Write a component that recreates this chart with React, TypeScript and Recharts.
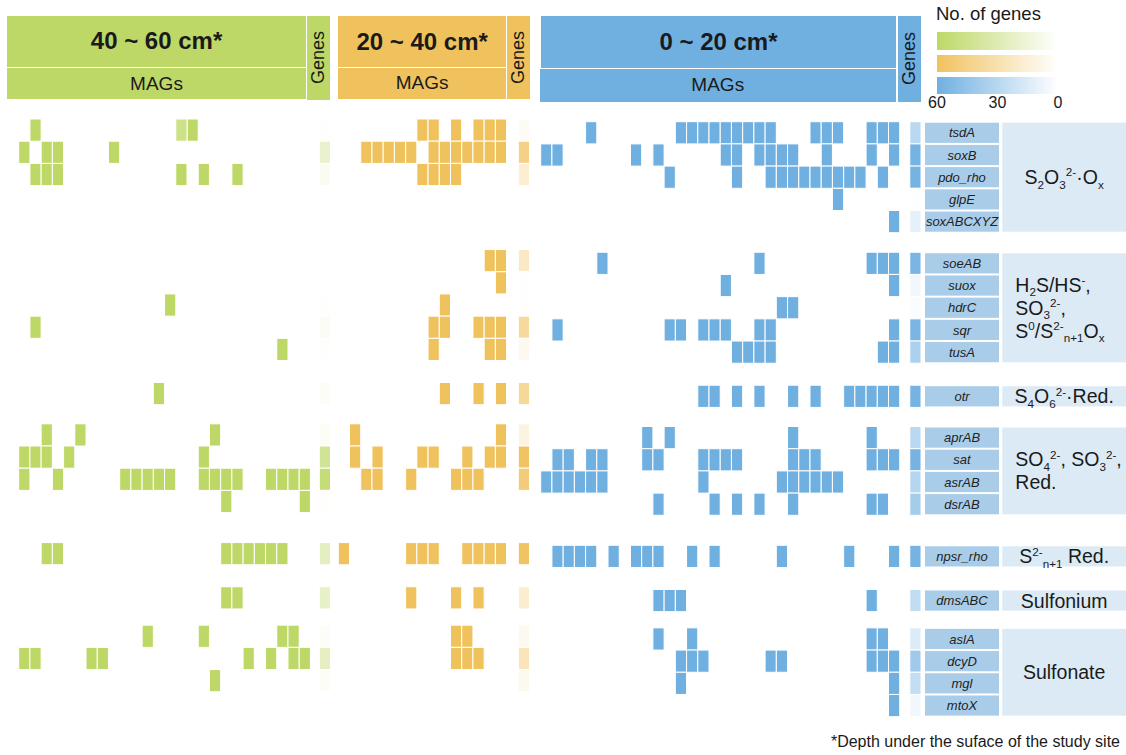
import React from "react";
import { ScatterChart, Scatter, XAxis, YAxis, ReferenceArea } from "recharts";

const FONT = '"Liberation Sans", Arial, Helvetica, sans-serif';

// gene rows, grouped by sulfur-metabolism step
const GENE_GROUPS: string[][] = [
  ["tsdA", "soxB", "pdo_rho", "glpE", "soxABCXYZ"],
  ["soeAB", "suox", "hdrC", "sqr", "tusA"],
  ["otr"],
  ["aprAB", "sat", "asrAB", "dsrAB"],
  ["npsr_rho"],
  ["dmsABC"],
  ["aslA", "dcyD", "mgl", "mtoX"],
];

// one label per group: _{..} subscript, ^{..} superscript
const PATHWAYS: string[][] = [
  ["S_{2}O_{3}^{2-}·O_{x}"],
  ["H_{2}S/HS^{-},", "SO_{3}^{2-},", "S^{0}/S^{2-}_{n+1}O_{x}"],
  ["S_{4}O_{6}^{2-}·Red."],
  ["SO_{4}^{2-}, SO_{3}^{2-},", "Red."],
  ["S^{2-}_{n+1} Red."],
  ["Sulfonium"],
  ["Sulfonate"],
];

const DEPTHS = ["40 ~ 60 cm*", "20 ~ 40 cm*", "0 ~ 20 cm*"];
const LEGEND_TICKS = [60, 30, 0];

// MAG columns carrying each gene (rows in GENE_GROUPS order)
const MAGS_40_60: number[][] = [
  [1, 15],
  [0, 2, 3, 8],
  [1, 2, 3, 14, 16, 19],
  [],
  [],
  [],
  [],
  [13],
  [1],
  [23],
  [12],
  [2, 5, 17],
  [0, 1, 2, 4, 16],
  [0, 3, 9, 10, 11, 12, 13, 16, 17, 18, 19, 22, 23, 24, 25],
  [18, 25],
  [2, 3, 18, 19, 20, 21, 22, 23],
  [18, 19],
  [11, 16, 23, 24],
  [0, 1, 6, 7, 20, 22, 24, 25],
  [17],
  [],
];
// partial hit
const WEAK_40_60: [string, number][] = [["tsdA", 14]];

const MAGS_20_40: number[][] = [
  [7, 8, 10, 12, 13, 14],
  [2, 3, 4, 5, 6, 8, 9, 10, 11, 12, 13, 14],
  [7, 8, 9, 10],
  [],
  [],
  [13, 14],
  [14],
  [9],
  [8, 9, 12, 13, 14],
  [8, 13, 14],
  [9, 12, 14],
  [1, 14],
  [1, 3, 7, 8, 11, 13, 14],
  [2, 3, 6, 10, 11, 12],
  [],
  [0, 6, 7, 8, 11, 12, 13, 14],
  [6, 10, 12],
  [10, 11],
  [10, 11, 12],
  [],
  [],
];

const MAGS_0_20: number[][] = [
  [4, 12, 13, 14, 15, 16, 17, 18, 19, 20, 24, 25, 26, 29, 30, 31],
  [0, 1, 8, 10, 16, 17, 19, 20, 21, 22, 25, 29, 31],
  [11, 17, 20, 21, 22, 23, 24, 25, 26, 27, 28, 30],
  [26],
  [31],
  [5, 19, 29, 30, 31],
  [16, 31],
  [21, 22],
  [1, 11, 12, 14, 15, 16, 19, 20, 31],
  [17, 18, 19, 20, 30, 31],
  [14, 15, 17, 19, 22, 24, 27, 28, 29, 30, 31],
  [9, 11, 22, 29],
  [1, 2, 4, 5, 9, 10, 14, 15, 16, 17, 22, 23, 24, 29, 30, 31],
  [0, 1, 2, 3, 4, 5, 14, 21, 22, 23, 24, 25, 26],
  [10, 15, 17, 19, 22, 29, 30],
  [1, 2, 3, 4, 6, 8, 9, 10, 13, 15, 21, 27, 31],
  [10, 11, 12, 29],
  [10, 13, 29, 30],
  [12, 13, 14, 20, 21, 29, 30, 31],
  [12, 31],
  [31],
];

// number of genes per row (0-60)
const GENES_40_60 = [1, 20, 5, 0, 0, 0, 0, 1, 4, 1, 3, 3, 42, 53, 1, 25, 22, 3, 24, 3, 0];
const GENES_20_40 = [4, 45, 17, 0, 0, 22, 1, 1, 37, 6, 38, 11, 58, 50, 0, 58, 18, 6, 26, 6, 0];
const GENES_0_20 = [29, 58, 58, 1, 11, 56, 6, 2, 56, 35, 58, 29, 58, 31, 38, 58, 26, 15, 40, 25, 6];

const GREEN = "#bdd867";
const ORANGE = "#f0c25e";
const BLUE = "#70b0e1";

const W = 1126;
const H = 755;
const COL_W = 11.22;
const ROW_H = 22.2;
const PLOT_TOP = 119;
const GROUP_GAPS = [0.88, 0.99, 0.86, 1.35, 0.99, 0.73];
const LABEL_DY = 2.7;

type Row = { name: string; pos: number };
const ROWS: Row[] = [];
let start = 0;
GENE_GROUPS.forEach((g, gi) => {
  g.forEach((name, i) => ROWS.push({ name, pos: start + i }));
  start += g.length + (GROUP_GAPS[gi] ?? 0);
});
const rowPos = (name: string) => ROWS.find((r) => r.name === name)!.pos;
const Y_MAX = ROWS[ROWS.length - 1].pos + 0.7;
const PLOT_H = (Y_MAX + 0.5) * ROW_H;

const PANELS = [
  { title: DEPTHS[0], hits: MAGS_40_60, genes: GENES_40_60, color: GREEN, x0: 18.7, genesX: 319.3, dy: 0,
    head: { l: 7, w: 299, gl: 307, gw: 23, split: 67.7, bottom: 99.5, magsL: 7 } },
  { title: DEPTHS[1], hits: MAGS_20_40, genes: GENES_20_40, color: ORANGE, x0: 338.3, genesX: 518.3, dy: 0,
    head: { l: 338.3, w: 167.7, gl: 507, gw: 22.5, split: 68, bottom: 98.5, magsL: 338.3 } },
  { title: DEPTHS[2], hits: MAGS_0_20, genes: GENES_0_20, color: BLUE, x0: 540.7, genesX: 909.8, dy: 2.7,
    head: { l: 541, w: 355, gl: 897.5, gw: 23.2, split: 69, bottom: 101.7, magsL: 539.5 } },
];

const mix = (hex: string, t: number) => {
  const c = [1, 3, 5].map((i) => parseInt(hex.slice(i, i + 2), 16));
  return `rgb(${c.map((v) => Math.round(255 + (v - 255) * t)).join(",")})`;
};

const tile = (fillOf: (p: any) => string, dy: number) => (p: any) => {
  if (p.cx == null || p.cy == null) return <g />;
  return (
    <rect
      x={p.cx - COL_W / 2}
      y={p.cy - ROW_H / 2 + dy}
      width={COL_W}
      height={ROW_H}
      fill={fillOf(p.payload)}
      stroke="#fff"
      strokeWidth={1}
    />
  );
};

const RichText = ({ x, y, text, anchor, size }: { x: number; y: number; text: string; anchor: "start" | "middle"; size: number }) => {
  const parts: React.ReactNode[] = [];
  const re = /([_^])\{([^}]*)\}|([^_^]+)/g;
  let m: RegExpExecArray | null;
  let shift = 0;
  while ((m = re.exec(text)) !== null) {
    const kind = m[1] ?? "";
    const t = m[3] ?? m[2];
    const target = kind === "_" ? size * 0.22 : kind === "^" ? -size * 0.4 : 0;
    parts.push(
      <tspan key={parts.length} dy={target - shift} fontSize={kind ? size * 0.6 : size}>
        {t}
      </tspan>
    );
    shift = target;
  }
  return (
    <text x={x} y={y} textAnchor={anchor} fontFamily={FONT} fill="#1a1a1a">
      {parts}
    </text>
  );
};

const geneBox = (name: string) => (p: any) => (
  <g>
    <rect x={p.x} y={p.y + LABEL_DY + 1} width={p.width} height={p.height - 2} fill="#a9cde9" />
    <text
      x={p.x + p.width / 2}
      y={p.y + LABEL_DY + p.height / 2}
      dy="0.36em"
      textAnchor="middle"
      fontStyle="italic"
      fontSize={13}
      fontFamily={FONT}
      fill="#222"
    >
      {name}
    </text>
  </g>
);

const pathwayBox = (lines: string[]) => (p: any) => {
  const size = 19.5;
  const lh = 23;
  const cy = p.y + LABEL_DY + p.height / 2;
  const multi = lines.length > 1;
  return (
    <g>
      <rect x={p.x} y={p.y + LABEL_DY + 1} width={p.width} height={p.height - 2} fill="#dceaf6" />
      {lines.map((l, i) => (
        <RichText
          key={i}
          x={multi ? p.x + 13 : p.x + p.width / 2}
          y={cy - ((lines.length - 1) * lh) / 2 + i * lh + size * 0.36}
          text={l}
          anchor={multi ? "start" : "middle"}
          size={size}
        />
      ))}
    </g>
  );
};

const abs = (l: number, t: number, w: number, h: number): React.CSSProperties => ({
  position: "absolute",
  left: l,
  top: t,
  width: w,
  height: h,
  display: "flex",
  alignItems: "center",
  justifyContent: "center",
});

export default function App() {
  let gi = 0;
  const groupAreas = GENE_GROUPS.map((g, i) => {
    const first = ROWS[gi].pos;
    const last = ROWS[gi + g.length - 1].pos;
    gi += g.length;
    return { first, last, lines: PATHWAYS[i] };
  });

  return (
    <div style={{ position: "absolute", left: 0, top: 0, width: W, height: H, background: "#fff", fontFamily: FONT, color: "#1a1a1a" }}>
      {PANELS.map((p) => (
        <React.Fragment key={p.title}>
          <div style={{ ...abs(p.head.l, 16, p.head.w, p.head.split - 16 - 1), background: p.color, fontWeight: 700, fontSize: 24 }}>
            {p.title}
          </div>
          <div style={{ ...abs(p.head.magsL, p.head.split, p.head.l + p.head.w - p.head.magsL, p.head.bottom - p.head.split), background: p.color, fontSize: 19 }}>
            MAGs
          </div>
          <div style={{ ...abs(p.head.gl, 16, p.head.gw, p.head.bottom - 16), background: p.color }}>
            <span style={{ writingMode: "vertical-rl", transform: "rotate(180deg)", fontSize: 18 }}>Genes</span>
          </div>
        </React.Fragment>
      ))}

      <div style={{ position: "absolute", left: 936, top: 4, fontSize: 18.5, lineHeight: "20px" }}>No. of genes</div>
      {PANELS.map((p, i) => (
        <div
          key={p.color}
          style={{
            position: "absolute",
            left: 937,
            top: [32.3, 54.5, 76.8][i],
            width: 121,
            height: 17.6,
            background: `linear-gradient(to right, ${p.color}, #ffffff)`,
          }}
        />
      ))}
      {LEGEND_TICKS.map((t, i) => (
        <div key={t} style={{ position: "absolute", left: 937 + i * 60.5 - 20, top: 94, width: 40, textAlign: "center", fontSize: 16 }}>
          {t}
        </div>
      ))}

      <div style={{ position: "absolute", left: 0, top: 733, width: 1120, textAlign: "right", fontSize: 16 }}>
        *Depth under the suface of the study site
      </div>

      <div style={{ position: "absolute", left: 0, top: 0 }}>
        <ScatterChart width={W} height={H} margin={{ top: PLOT_TOP, right: 0, bottom: H - PLOT_TOP - PLOT_H, left: 0 }}>
          <XAxis type="number" dataKey="x" domain={[0, W]} allowDataOverflow hide />
          <YAxis type="number" dataKey="y" domain={[-0.5, Y_MAX]} reversed allowDataOverflow hide />

          {groupAreas.map((a, i) => (
            <ReferenceArea key={`pw-${i}`} x1={1002.3} x2={W} y1={a.first - 0.5} y2={a.last + 0.5} shape={pathwayBox(a.lines)} />
          ))}
          {ROWS.map((r) => (
            <ReferenceArea key={`lb-${r.name}`} x1={925} x2={999} y1={r.pos - 0.5} y2={r.pos + 0.5} shape={geneBox(r.name)} />
          ))}

          {PANELS.map((p) => (
            <Scatter
              key={`mags-${p.title}`}
              data={ROWS.flatMap((r, i) => p.hits[i].map((c) => ({ x: p.x0 + (c + 0.5) * COL_W, y: r.pos })))}
              shape={tile(() => p.color, p.dy)}
              isAnimationActive={false}
            />
          ))}
          <Scatter
            data={WEAK_40_60.map(([g, c]) => ({ x: PANELS[0].x0 + (c + 0.5) * COL_W, y: rowPos(g) }))}
            shape={tile(() => mix(GREEN, 0.78), 0)}
            isAnimationActive={false}
          />
          {PANELS.map((p) => (
            <Scatter
              key={`genes-${p.title}`}
              data={ROWS.map((r, i) => ({ x: p.genesX + COL_W / 2, y: r.pos, n: p.genes[i] })).filter((d) => d.n > 0)}
              shape={tile((d) => mix(p.color, d.n / 60), p.dy)}
              isAnimationActive={false}
            />
          ))}
        </ScatterChart>
      </div>
    </div>
  );
}
